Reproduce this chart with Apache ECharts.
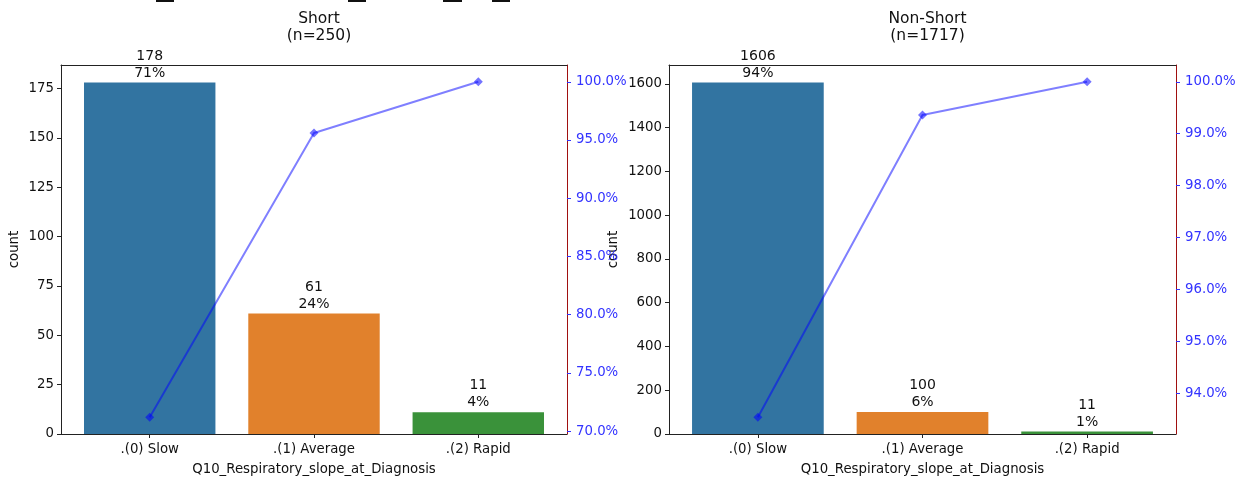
<!DOCTYPE html>
<html>
<head>
<meta charset="utf-8">
<script src="https://cdn.jsdelivr.net/npm/echarts@6/dist/echarts.min.js"></script>
<style>
html,body{margin:0;padding:0;background:#fff;}
#chart{width:1239px;height:481px;}
</style>
</head>
<body>
<div id="chart"></div>
<script>
// ---- data ----
const categories = ['.(0) Slow', '.(1) Average', '.(2) Rapid'];
const xAxisTitle = 'Q10_Respiratory_slope_at_Diagnosis';
const panelTitles = ['Short', 'Non-Short'];
const shortCounts = [178, 61, 11];
const nonShortCounts = [1606, 100, 11];
const shortCountTicks = [0, 25, 50, 75, 100, 125, 150, 175];
const nonShortCountTicks = [0, 200, 400, 600, 800, 1000, 1200, 1400, 1600];
const shortPctTicks = [70, 75, 80, 85, 90, 95, 100];
const nonShortPctTicks = [94, 95, 96, 97, 98, 99, 100];
const barColors = ['#3274a1', '#e1812c', '#3a923a'];

// ---- layout ----
const FONT = 'DejaVu Sans';
const TICK_FS = 13.3;
const gridsLayout = [
  {left: 61, top: 65, width: 506, height: 369, nameGapY: 40},
  {left: 669, top: 65, width: 507, height: 369, nameGapY: 49}
];
const XMIN = -0.54, XMAX = 2.54;

const panels = [
  {title: panelTitles[0], counts: shortCounts, countTicks: shortCountTicks, pctTicks: shortPctTicks},
  {title: panelTitles[1], counts: nonShortCounts, countTicks: nonShortCountTicks, pctTicks: nonShortPctTicks}
];

const option = {
  animation: false,
  backgroundColor: '#fff',
  textStyle: {fontFamily: FONT},
  title: [], grid: [], xAxis: [], yAxis: [], series: [],
  graphic: []
};

panels.forEach((p, i) => {
  const g = gridsLayout[i];
  const total = p.counts.reduce((a, b) => a + b, 0);
  let run = 0;
  const cum = p.counts.map(c => { run += c; return run / total * 100; });
  const cmin = Math.min(...cum), cmax = Math.max(...cum);
  const span = cmax - cmin;
  const countMax = Math.max(...p.counts) * 1.05;
  const barW = g.width / (XMAX - XMIN) * 0.8;

  option.title.push({
    text: p.title + '\n(n=' + total + ')',
    left: g.left + g.width / 2, top: 5, textAlign: 'center',
    textStyle: {fontFamily: FONT, fontSize: 15.5, fontWeight: 'normal', color: '#111', lineHeight: 17}
  });
  option.grid.push({left: g.left, top: g.top, width: g.width, height: g.height, show: false});
  // bottom x axis
  option.xAxis.push({
    type: 'value', gridIndex: i, min: XMIN, max: XMAX, position: 'bottom',
    name: xAxisTitle, nameLocation: 'middle', nameGap: 29,
    nameTextStyle: {fontFamily: FONT, fontSize: TICK_FS, color: '#111'},
    axisLine: {show: true, onZero: false, lineStyle: {color: '#222', width: 1}},
    axisTick: {show: true, length: 4, lineStyle: {color: '#222'}, customValues: [0, 1, 2]},
    axisLabel: {customValues: [0, 1, 2], margin: 9, fontFamily: FONT, fontSize: TICK_FS, color: '#111',
      formatter: v => categories[Math.round(v)]},
    splitLine: {show: false}
  });
  // top spine
  option.xAxis.push({
    type: 'value', gridIndex: i, min: XMIN, max: XMAX, position: 'top',
    axisLine: {show: true, onZero: false, lineStyle: {color: '#222', width: 1}},
    axisTick: {show: false}, axisLabel: {show: false}, splitLine: {show: false}
  });
  option.yAxis.push({
    type: 'value', gridIndex: i, min: 0, max: countMax, position: 'left',
    name: 'count', nameLocation: 'middle', nameGap: g.nameGapY,
    nameTextStyle: {fontFamily: FONT, fontSize: TICK_FS, color: '#111'},
    axisLine: {show: true, onZero: false, lineStyle: {color: '#222', width: 1}},
    axisTick: {show: true, length: 4, lineStyle: {color: '#222'}, customValues: p.countTicks},
    axisLabel: {customValues: p.countTicks, margin: 7, fontFamily: FONT, fontSize: TICK_FS, color: '#111',
      formatter: v => String(v)},
    splitLine: {show: false}
  });
  option.yAxis.push({
    type: 'value', gridIndex: i, min: cmin - span * 0.05, max: cmax + span * 0.05, position: 'right',
    axisLine: {show: true, onZero: false, lineStyle: {color: '#a01010', width: 1}},
    axisTick: {show: true, length: 4, lineStyle: {color: '#3333ff'}, customValues: p.pctTicks},
    axisLabel: {customValues: p.pctTicks, margin: 9, fontFamily: FONT, fontSize: TICK_FS, color: '#3333ff',
      formatter: v => v.toFixed(1) + '%'},
    splitLine: {show: false}
  });
  option.series.push({
    type: 'bar', xAxisIndex: i * 2, yAxisIndex: i * 2, barWidth: barW,
    data: p.counts.map((c, k) => ({
      value: [k, c], itemStyle: {color: barColors[k]},
      label: {formatter: c + '\n' + Math.round(c / total * 100) + '%'}
    })),
    label: {show: true, position: 'top', distance: 1, fontFamily: FONT, fontSize: 14, color: '#111', lineHeight: 17},
    z: 2
  });
  option.series.push({
    type: 'line', xAxisIndex: i * 2, yAxisIndex: i * 2 + 1,
    data: cum.map((v, k) => [k, v]),
    symbol: 'diamond', symbolSize: 9,
    lineStyle: {color: 'rgba(0,0,255,0.5)', width: 2},
    itemStyle: {color: 'rgba(0,0,255,0.55)', borderWidth: 0},
    z: 4
  });
});

// clipped text fragments at top edge
[[156, 18], [348, 18], [443, 19], [492, 18]].forEach(([x, w]) => {
  option.graphic.push({type: 'rect', shape: {x: x, y: 0, width: w, height: 2},
    style: {fill: '#111', stroke: 'none', lineWidth: 0}});
});

const chart = echarts.init(document.getElementById('chart'), null, {renderer: 'canvas'});
chart.setOption(option);
</script>
</body>
</html>
